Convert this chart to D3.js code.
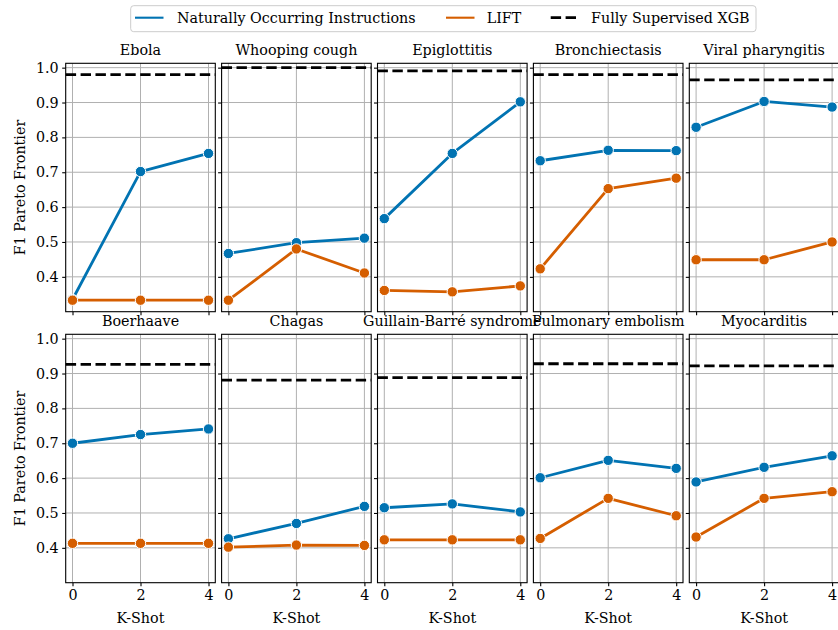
<!DOCTYPE html>
<html><head><meta charset="utf-8">
<script src="https://cdn.jsdelivr.net/npm/d3@7"></script>
<style>body{margin:0;background:#fff}svg{display:block}</style>
</head><body><svg id="c" width="838" height="630"></svg>
<script>
const diseases = ["Ebola","Whooping cough","Epiglottitis","Bronchiectasis","Viral pharyngitis","Boerhaave","Chagas","Guillain-Barré syndrome","Pulmonary embolism","Myocarditis"];
const kShots = [0,2,4];
const noi = [[0.335,0.702,0.754],[0.467,0.498,0.511],[0.567,0.754,0.902],[0.733,0.763,0.762],[0.829,0.903,0.887],[0.700,0.725,0.741],[0.426,0.470,0.519],[0.515,0.526,0.503],[0.601,0.651,0.628],[0.589,0.631,0.664]];
const lift = [[0.333,0.333,0.333],[0.333,0.480,0.411],[0.361,0.357,0.374],[0.423,0.653,0.683],[0.449,0.449,0.500],[0.413,0.413,0.413],[0.402,0.408,0.407],[0.423,0.423,0.423],[0.427,0.542,0.492],[0.431,0.542,0.561]];
const xgb = [0.980,1.000,0.991,0.980,0.965,0.926,0.881,0.888,0.928,0.922];
const yTicks = [0.4,0.5,0.6,0.7,0.8,0.9,1.0];
const seriesNames = ["Naturally Occurring Instructions","LIFT","Fully Supervised XGB"];
const colors = ["#0173b2","#d55e00","#000000"];

const svg = d3.select("#c");
const FONT = '"DejaVu Serif", serif';
const FS = 14.3;
const pw = 149.6, step = 155.9, left0 = 65.7;
const rowTop = [63.3, 334.3], ph = 248.4;
const x = d3.scaleLinear().domain([-0.2,4.2]).range([0,pw]);
const y = d3.scaleLinear().domain([0.3,1.0125]).range([ph,0]);
function T(sel){ return sel.style("font-family",FONT).style("font-size",FS+"px").attr("fill","#000"); }

diseases.forEach((name,i)=>{
  const r = Math.floor(i/5), c = i%5;
  const g = svg.append("g").attr("transform",`translate(${left0+c*step},${rowTop[r]})`);
  g.append("g").selectAll("line").data(yTicks).join("line")
    .attr("x1",0).attr("x2",pw).attr("y1",d=>y(d)).attr("y2",d=>y(d))
    .attr("stroke","#b0b0b0").attr("stroke-width",1);
  g.append("g").selectAll("line").data(kShots).join("line")
    .attr("y1",0).attr("y2",ph).attr("x1",d=>x(d)).attr("x2",d=>x(d))
    .attr("stroke","#b0b0b0").attr("stroke-width",1);
  const ya = d3.axisLeft(y).tickValues(yTicks).tickSize(3.5).tickPadding(3.5).tickFormat(c===0?d3.format(".1f"):()=> "");
  const yg = g.append("g").call(ya);
  const xa = d3.axisBottom(x).tickValues(kShots).tickSize(3.5).tickPadding(3.5).tickFormat(r===1?d3.format("d"):()=> "");
  const xg = g.append("g").attr("transform",`translate(0,${ph})`).call(xa);
  [yg,xg].forEach(a=>{a.attr("font-family",null).attr("font-size",null);
    a.select(".domain").remove();a.selectAll("line").attr("stroke","#000").attr("stroke-width",1.1);
    T(a.selectAll("text"));});
  g.append("line").attr("x1",x(-0.2)).attr("x2",x(4.2)).attr("y1",y(xgb[i])).attr("y2",y(xgb[i]))
    .attr("stroke",colors[2]).attr("stroke-width",2.8).attr("stroke-dasharray","10.4,4.5");
  const line = d3.line().x((d,j)=>x(kShots[j])).y(d=>y(d));
  [noi[i],lift[i]].forEach((vals,s)=>{
    g.append("path").datum(vals).attr("d",line).attr("fill","none").attr("stroke",colors[s]).attr("stroke-width",2.8).attr("stroke-linejoin","round");
    g.append("g").selectAll("circle").data(vals).join("circle")
      .attr("cx",(d,j)=>x(kShots[j])).attr("cy",d=>y(d)).attr("r",5.2)
      .attr("fill",colors[s]).attr("stroke","#fff").attr("stroke-width",1);
  });
  g.append("rect").attr("width",pw).attr("height",ph).attr("fill","none").attr("stroke","#000").attr("stroke-width",1.1);
  T(g.append("text").attr("x",pw/2).attr("y",-8).attr("text-anchor","middle")).text(name);
  if(r===1) T(g.append("text").attr("x",pw/2).attr("y",ph+40.5).attr("text-anchor","middle")).text("K-Shot");
  if(c===0) T(g.append("text").attr("transform",`translate(${25-left0},${ph/2}) rotate(-90)`).attr("text-anchor","middle")).text("F1 Pareto Frontier");
});

const lg = svg.append("g");
lg.append("rect").attr("x",130.7).attr("y",5.7).attr("width",625.3).attr("height",26).attr("rx",3)
  .attr("fill","#fff").attr("fill-opacity",0.8).attr("stroke","#cccccc").attr("stroke-width",1);
const lx = [135,446,550.7], tx = [177,486.7,591];
seriesNames.forEach((n,s)=>{
  lg.append("line").attr("x1",lx[s]).attr("x2",lx[s]+28.5).attr("y1",17.7).attr("y2",17.7)
    .attr("stroke",colors[s]).attr("stroke-width",s===2?2.8:2.1).attr("stroke-dasharray",s===2?"10.4,4.5":null);
  T(lg.append("text").attr("x",tx[s]).attr("y",22.5)).text(n);
});
</script></body></html>
